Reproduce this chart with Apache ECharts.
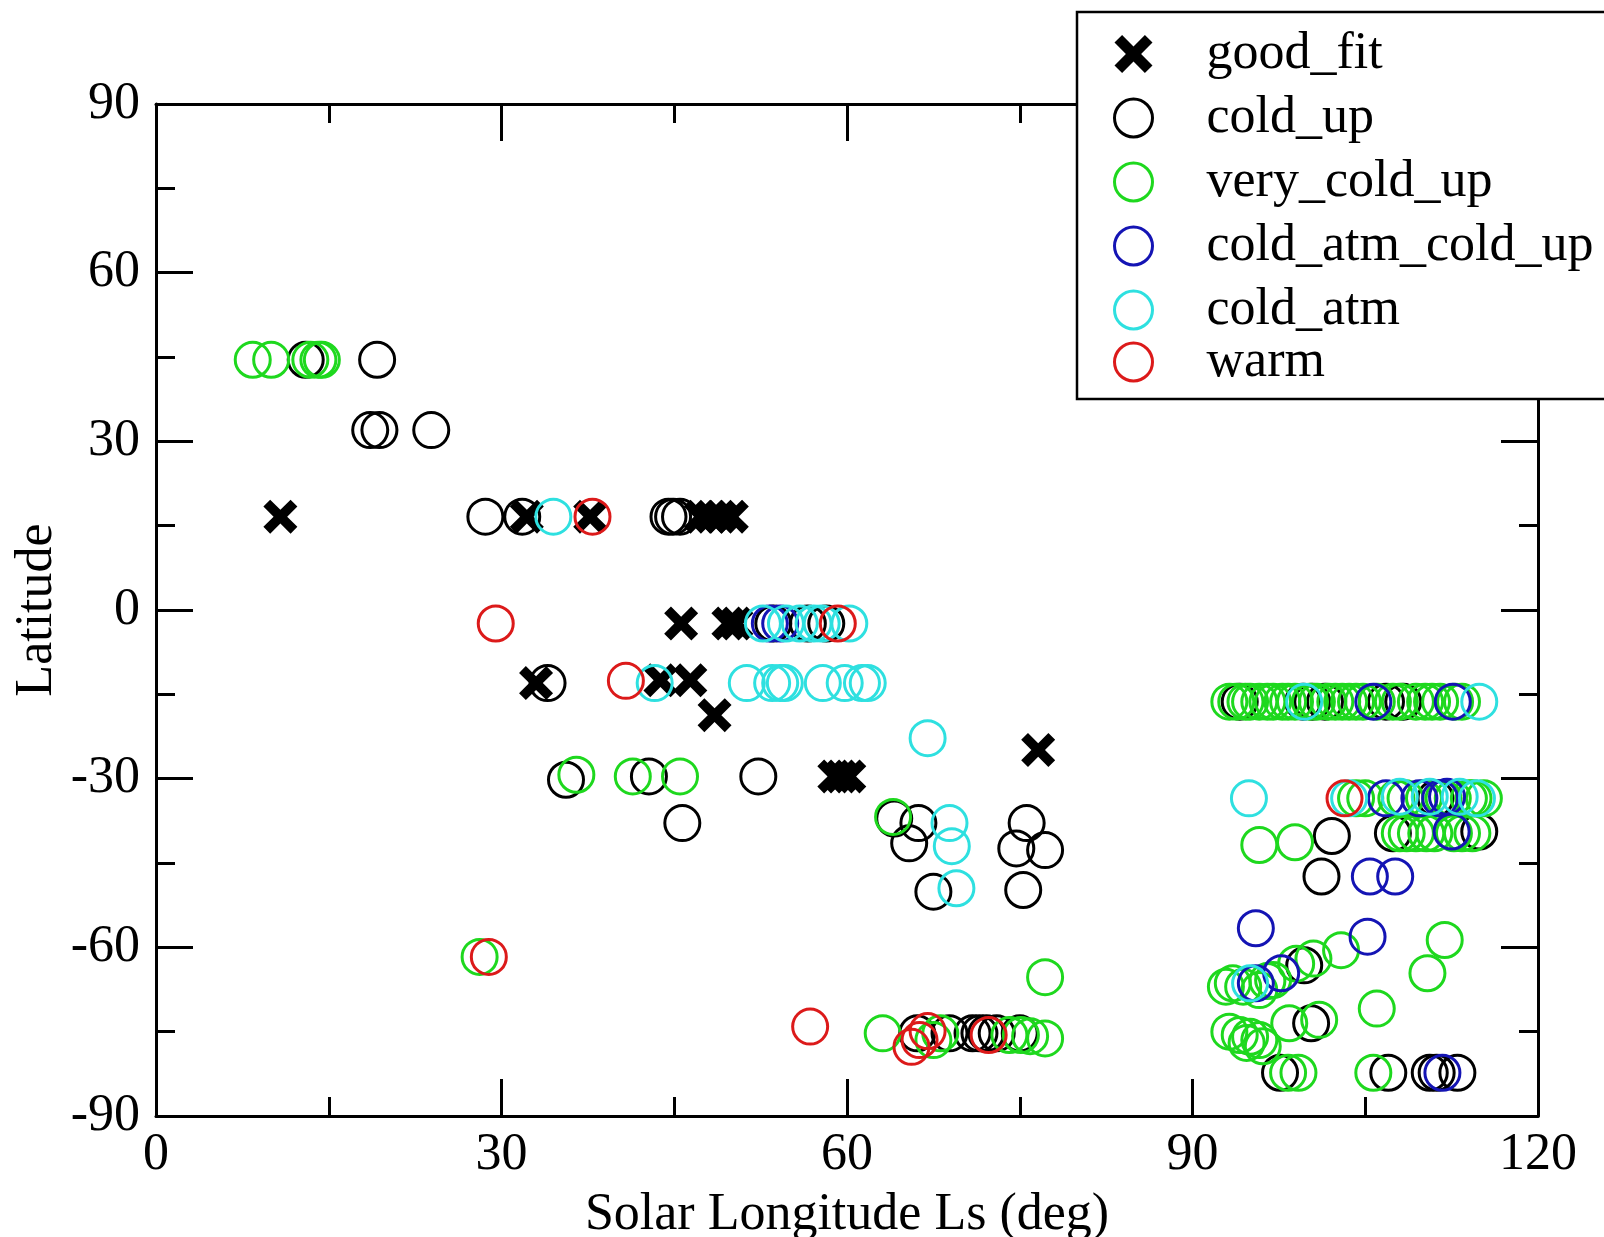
<!DOCTYPE html>
<html>
<head>
<meta charset="utf-8">
<script src="https://cdn.jsdelivr.net/npm/echarts@6/dist/echarts.min.js"></script>
<style>
  html, body { margin: 0; padding: 0; background: #ffffff; }
  #chart { width: 1604px; height: 1237px; }
</style>
</head>
<body>
<div id="chart"></div>
<script>
// Axis ranges and tick labels
const lonRange = [0, 120];
const latRange = [-90, 90];
const tickStep = 30;

// Series names and colours
const seriesNames = ['good_fit', 'cold_up', 'very_cold_up', 'cold_atm_cold_up', 'cold_atm', 'warm'];
const seriesColors = ['#000000', '#000000', '#1ed81e', '#1414b4', '#2ee0e0', '#dc1a1a'];

// Points as [solar longitude Ls (deg), latitude]
const goodFit = [
  [10.8, 16.6], [32.2, 16.6], [37.7, 16.6], [47.3, 16.6], [48.2, 16.6], [49.0, 16.6], [50.0, 16.6],
  [45.6, -2.4], [49.7, -2.4], [50.4, -2.4],
  [33.0, -13.0], [43.8, -12.5], [46.4, -12.5], [48.5, -18.7],
  [58.9, -29.6], [59.5, -29.6], [60.2, -29.6], [76.6, -24.9]
];

const coldUp = [
  [13.0, 44.5], [19.2, 44.5], [18.6, 32.0], [19.4, 32.0], [23.9, 32.0],
  [28.6, 16.6], [31.8, 16.6], [44.5, 16.6], [44.9, 16.6], [45.5, 16.6],
  [53.6, -2.4], [56.6, -2.4], [58.2, -2.4],
  [34.0, -13.0],
  [35.6, -30.2], [42.8, -29.6], [52.3, -29.6], [45.7, -37.9],
  [64.1, -37.1], [66.2, -37.9], [65.4, -41.5], [67.5, -50.1],
  [75.6, -37.9], [74.7, -42.4], [77.2, -42.7], [75.3, -49.8],
  [66.1, -75.3], [68.9, -75.3], [70.9, -75.3], [71.5, -75.3], [72.1, -75.3], [73.0, -75.3], [75.0, -75.3],
  [94.1, -16.3], [99.6, -16.3], [100.4, -16.3], [101.5, -16.3], [106.8, -16.3], [108.3, -16.3],
  [111.1, -33.5], [107.4, -39.7], [114.9, -39.4],
  [102.1, -40.2], [101.2, -47.4], [99.7, -63.2], [100.3, -73.5],
  [97.6, -82.3], [107.0, -82.3], [110.6, -82.3], [111.2, -82.3], [113.0, -82.3]
];

const veryColdUp = [
  [8.4, 44.5], [10.0, 44.5], [13.4, 44.5], [14.1, 44.5], [14.4, 44.5],
  [28.1, -61.7],
  [36.5, -29.3], [41.4, -29.6], [45.5, -29.6],
  [64.0, -36.8], [77.2, -65.3],
  [63.1, -75.3], [67.5, -76.5], [68.1, -75.3], [74.1, -75.6], [75.1, -75.6], [75.9, -75.8], [77.2, -76.2],
  [93.2, -16.3], [93.8, -16.3], [94.6, -16.3], [95.0, -16.3], [95.8, -16.3], [96.5, -16.3], [97.0, -16.3],
  [97.8, -16.3], [98.3, -16.3], [98.9, -16.3], [100.2, -16.3], [100.8, -16.3], [101.8, -16.3], [102.4, -16.3],
  [103.0, -16.3], [103.6, -16.3], [104.2, -16.3], [104.8, -16.3], [106.0, -16.3], [107.4, -16.3], [108.0, -16.3],
  [109.4, -16.3], [110.2, -16.3], [110.8, -16.3], [111.5, -16.3], [112.8, -16.3], [113.4, -16.3],
  [104.2, -33.5], [105.0, -33.5], [107.7, -33.5], [108.5, -33.5], [110.1, -33.5], [111.8, -33.5],
  [112.6, -33.5], [114.0, -33.5], [114.4, -33.5], [115.3, -33.5],
  [108.0, -39.7], [108.6, -39.7], [109.4, -39.7], [110.3, -39.7], [111.0, -39.7], [112.7, -39.7],
  [113.4, -39.7], [114.3, -39.7],
  [95.8, -41.8], [98.9, -41.3],
  [111.9, -58.7], [110.4, -64.6], [102.9, -60.5], [100.5, -62.0], [99.0, -62.9], [97.0, -65.8],
  [93.5, -66.4], [92.9, -67.0], [94.4, -67.0], [95.8, -67.6], [96.5, -66.0],
  [106.0, -70.9], [101.0, -72.9], [98.4, -73.5],
  [93.2, -75.0], [94.1, -75.6], [95.0, -75.9], [94.7, -77.0], [95.8, -76.5], [96.1, -77.6],
  [98.3, -82.3], [99.2, -82.3], [105.7, -82.3]
];

const coldAtmColdUp = [
  [53.3, -2.4], [54.2, -2.4],
  [105.7, -16.3], [112.6, -16.3],
  [106.8, -33.5], [109.7, -33.5], [111.5, -33.5], [112.1, -33.2],
  [112.5, -39.4],
  [105.4, -47.4], [107.6, -47.4],
  [95.5, -56.6], [105.2, -58.1],
  [97.7, -64.6], [95.5, -66.4],
  [111.7, -82.3]
];

const coldAtm = [
  [34.5, 16.6],
  [52.7, -2.4], [54.7, -2.4], [55.9, -2.4], [57.1, -2.4], [57.8, -2.4], [60.2, -2.4],
  [43.3, -13.0], [51.3, -13.0], [53.5, -13.0], [54.2, -13.0], [54.6, -13.0], [57.9, -13.0],
  [59.8, -13.0], [61.3, -13.0], [61.8, -13.0],
  [67.0, -22.8],
  [68.9, -37.9], [69.1, -42.0], [69.5, -49.5],
  [99.7, -16.3], [114.9, -16.3],
  [94.9, -33.5], [103.6, -33.5], [108.0, -33.2], [110.6, -33.2], [113.2, -33.2], [114.7, -33.5],
  [95.0, -66.4]
];

const warm = [
  [29.5, -2.4], [37.9, 16.6], [40.8, -12.6], [59.2, -2.4], [28.9, -61.7],
  [56.8, -74.1], [65.6, -77.7], [66.3, -76.5], [67.0, -74.9], [72.3, -75.6],
  [103.2, -33.5]
];

const seriesData = [goodFit, coldUp, veryColdUp, coldAtmColdUp, coldAtm, warm];

// Bold cross used for the good_fit marker
const crossPath = 'path://M0,20 L20,0 L50,30 L80,0 L100,20 L70,50 L100,80 L80,100 L50,70 L20,100 L0,80 L30,50 Z';

const fontFamily = '"Liberation Serif", "DejaVu Serif", "Times New Roman", serif';
const fontSize = 52;
const lineW = 3;
const circleBorder = 3;

function styleFor(i) {
  if (i === 0) return { color: '#000000', borderWidth: 0, opacity: 1 };
  return { color: 'rgba(0,0,0,0)', borderColor: seriesColors[i], borderWidth: circleBorder, opacity: 1 };
}

function axisCommon(extra) {
  return Object.assign({
    type: 'value',
    splitLine: { show: false },
    minorSplitLine: { show: false },
    axisLine: { show: true, onZero: false, lineStyle: { color: '#000', width: lineW } },
    axisTick: { show: true, inside: true, length: 37, lineStyle: { color: '#000', width: lineW } },
    minorTick: { show: true, splitNumber: 2, length: 19, lineStyle: { color: '#000', width: lineW } }
  }, extra);
}

// Legend rows: the last entry sits a little closer to the one above it
function legendText(i) {
  const last = i === seriesNames.length - 1;
  return { fontFamily: fontFamily, fontSize: fontSize, lineHeight: last ? 36 : 76, color: '#000', padding: [0, 0, 0, 49] };
}

const chart = echarts.init(document.getElementById('chart'), null, { renderer: 'canvas' });

chart.setOption({
  animation: false,
  backgroundColor: '#ffffff',
  textStyle: { fontFamily: fontFamily },
  grid: { left: 156, right: 66, top: 104, bottom: 121, containLabel: false, outerBoundsMode: 'none' },
  xAxis: [
    axisCommon({
      position: 'bottom',
      min: lonRange[0], max: lonRange[1], interval: tickStep,
      name: 'Solar Longitude Ls (deg)',
      nameLocation: 'middle',
      nameGap: 73,
      nameMoveOverlap: false,
      nameTextStyle: { fontFamily: fontFamily, fontSize: fontSize, color: '#000' },
      axisLabel: { margin: 13, fontFamily: fontFamily, fontSize: fontSize, color: '#000' }
    }),
    axisCommon({
      position: 'top',
      min: lonRange[0], max: lonRange[1], interval: tickStep,
      axisLabel: { show: false }
    })
  ],
  yAxis: [
    axisCommon({
      position: 'left',
      min: latRange[0], max: latRange[1], interval: tickStep,
      name: 'Latitude',
      nameLocation: 'middle',
      nameGap: 93,
      nameMoveOverlap: false,
      nameTextStyle: { fontFamily: fontFamily, fontSize: fontSize, color: '#000' },
      axisLabel: { margin: 16, fontFamily: fontFamily, fontSize: fontSize, color: '#000' }
    }),
    axisCommon({
      position: 'right',
      min: latRange[0], max: latRange[1], interval: tickStep,
      axisLabel: { show: false }
    })
  ],
  legend: {
    orient: 'vertical',
    left: 1077,
    top: 12,
    padding: [4, 60, 11, 36],
    itemWidth: 38,
    itemHeight: 38,
    itemGap: -12,
    borderColor: '#000',
    borderWidth: 2.5,
    backgroundColor: '#ffffff',
    selectedMode: false,
    textStyle: { fontFamily: fontFamily, fontSize: fontSize, lineHeight: 76, color: '#000', padding: [0, 0, 0, 49] },
    data: seriesNames.map((n, i) => ({
      name: n,
      icon: i === 0 ? crossPath : 'circle',
      itemStyle: styleFor(i),
      textStyle: legendText(i)
    }))
  },
  series: seriesNames.map((n, i) => ({
    name: n,
    type: 'scatter',
    xAxisIndex: 0,
    yAxisIndex: 0,
    symbol: i === 0 ? crossPath : 'circle',
    symbolSize: i === 0 ? 34 : 35,
    itemStyle: styleFor(i),
    emphasis: { disabled: true },
    silent: true,
    z: 2,
    data: seriesData[i]
  }))
});
</script>
</body>
</html>
